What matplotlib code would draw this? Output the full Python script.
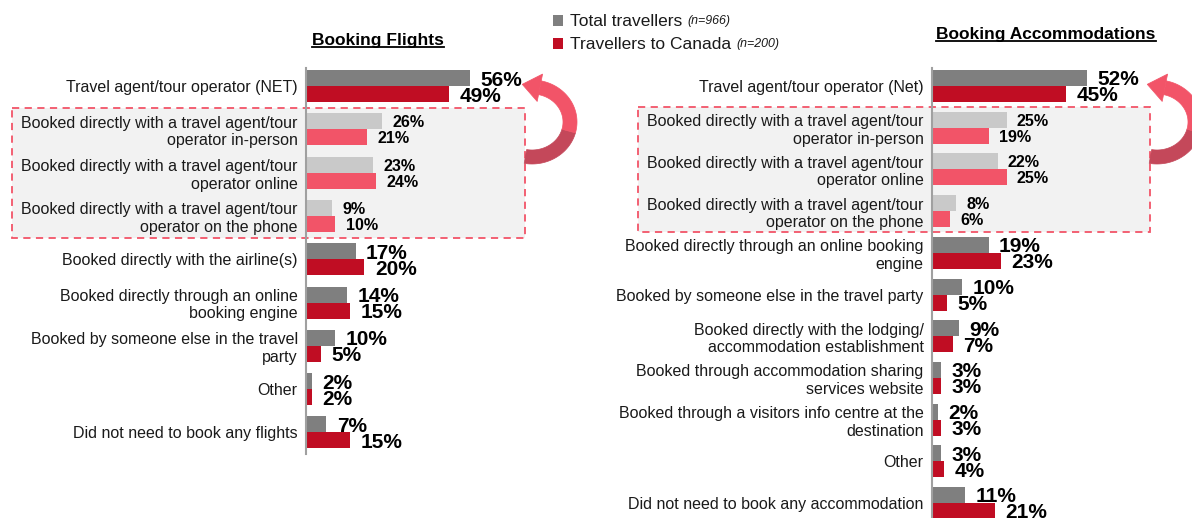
import numpy as np
import matplotlib.pyplot as plt
from matplotlib.patches import Rectangle, Polygon
from matplotlib.lines import Line2D
import matplotlib.transforms as mtransforms

plt.rcParams['font.family'] = ['Liberation Sans', 'DejaVu Sans']

W, H = 1192, 518

# data
flight_labels = [
    "Travel agent/tour operator (NET)",
    "Booked directly with a travel agent/tour\noperator in-person",
    "Booked directly with a travel agent/tour\noperator online",
    "Booked directly with a travel agent/tour\noperator on the phone",
    "Booked directly with the airline(s)",
    "Booked directly through an online\nbooking engine",
    "Booked by someone else in the travel\nparty",
    "Other",
    "Did not need to book any flights",
]
flight_total = [56, 26, 23, 9, 17, 14, 10, 2, 7]
flight_canada = [49, 21, 24, 10, 20, 15, 5, 2, 15]

accom_labels = [
    "Travel agent/tour operator (Net)",
    "Booked directly with a travel agent/tour\noperator in-person",
    "Booked directly with a travel agent/tour\noperator online",
    "Booked directly with a travel agent/tour\noperator on the phone",
    "Booked directly through an online booking\nengine",
    "Booked by someone else in the travel party",
    "Booked directly with the lodging/\naccommodation establishment",
    "Booked through accommodation sharing\nservices website",
    "Booked through a visitors info centre at the\ndestination",
    "Other",
    "Did not need to book any accommodation",
]
accom_total = [52, 25, 22, 8, 19, 10, 9, 3, 2, 3, 11]
accom_canada = [45, 19, 25, 6, 23, 5, 7, 3, 3, 4, 21]

highlight_rows = [1, 2, 3]
legend_names = ["Total travellers", "Travellers to Canada"]
legend_n = ["(n=966)", "(n=200)"]

GREY = '#7f7f7f'
RED = '#c00d23'
LIGHT_GREY = '#c9c9c9'
PINK = '#f25468'
DARK_PINK = '#c4485a'
BOX_FILL = '#f2f2f2'

fig = plt.figure(figsize=(W / 100, H / 100), dpi=100)

# background layer in pixel coordinates (box, arrows, legend, titles)
bg = fig.add_axes([0, 0, 1, 1], zorder=-1)
bg.set_xlim(0, W)
bg.set_ylim(H, 0)
bg.axis('off')


def draw_arrow(bx, cy=122, rx=38, ry=35, w=14):
    cx = bx + 7
    t_split = np.deg2rad(-15)
    for t0, t1, col in [(np.deg2rad(-100), t_split, DARK_PINK),
                        (t_split, np.deg2rad(78), PINK)]:
        t = np.linspace(t0, t1, 60)
        outer = np.c_[cx + (rx + w / 2) * np.cos(t), cy - (ry + w / 2) * np.sin(t)]
        inner = np.c_[cx + (rx - w / 2) * np.cos(t), cy - (ry - w / 2) * np.sin(t)]
        bg.add_patch(Polygon(np.vstack([outer, inner[::-1]]), closed=True,
                             facecolor=col, edgecolor=col, lw=0.5, zorder=3))
    te = np.deg2rad(78)
    p = np.array([cx + rx * np.cos(te), cy - ry * np.sin(te)])
    d = np.array([-rx * np.sin(te), -ry * np.cos(te)])
    d /= np.linalg.norm(d)
    n = np.array([-d[1], d[0]])
    head = [p + n * 14, p + d * 18, p - n * 14]
    bg.add_patch(Polygon(head, closed=True, facecolor=PINK, edgecolor=PINK,
                         lw=0.5, zorder=3))


def panel(x0, y_top, y_bot, px_pct, row_px, labels, total, canada, box_l, box_r):
    n = len(labels)
    y = np.arange(n)
    width = 60 * px_pct
    ax = fig.add_axes([x0 / W, 1 - y_bot / H, width / W, (y_bot - y_top) / H])
    ax.set_facecolor('none')
    ax.set_xlim(0, 60)
    ax.set_ylim((y_bot - 86) / row_px, -(86 - y_top) / row_px)
    bar_h = 16 / row_px
    hl = np.isin(y, highlight_rows)
    ax.barh(y - bar_h / 2, total, height=bar_h,
            color=np.where(hl, LIGHT_GREY, GREY))
    ax.barh(y + bar_h / 2, canada, height=bar_h,
            color=np.where(hl, PINK, RED))
    for i in range(n):
        fs = 11.6 if hl[i] else 15
        for v, yy in [(total[i], y[i] - bar_h / 2), (canada[i], y[i] + bar_h / 2)]:
            ax.annotate(f"{v}%", xy=(v, yy), xytext=(7.5, 0),
                        textcoords='offset points', ha='left',
                        va='center_baseline', fontsize=fs, fontweight='bold',
                        color='black', annotation_clip=False)
    ax.set_yticks(y, labels=labels, fontsize=11.5, color='#1a1a1a')
    ax.tick_params(axis='y', length=0, pad=6)
    ax.set_xticks([])
    for s in ['top', 'right', 'bottom']:
        ax.spines[s].set_visible(False)
    ax.spines['left'].set_color('#a0a0a0')
    ax.spines['left'].set_linewidth(1.5)

    trans = mtransforms.blended_transform_factory(bg.transData, ax.transData)
    bg.add_patch(Rectangle((box_l, min(highlight_rows) - 0.5), box_r - box_l,
                           len(highlight_rows), transform=trans,
                           facecolor=BOX_FILL, edgecolor=PINK, lw=1.3,
                           ls=(0, (4, 3)), zorder=1, clip_on=False))
    draw_arrow(box_r)
    return ax


ax1 = panel(306, 68, 454, 2.92, 43.3, flight_labels, flight_total,
            flight_canada, 12, 525)
ax2 = panel(932, 68, 530, 2.98, 41.7, accom_labels, accom_total,
            accom_canada, 638, 1150)

# titles
titles = [
    bg.text(378, 44.5, "Booking Flights", ha='center', va='baseline',
            fontsize=12.5, fontweight='bold'),
    bg.text(1046, 38.5, "Booking Accommodations", ha='center', va='baseline',
            fontsize=12.5, fontweight='bold'),
]

# legend
for name, nn, col, yc in zip(legend_names, legend_n, [GREY, RED], [20, 43]):
    bg.add_patch(Rectangle((553, yc - 5.5), 10, 11, facecolor=col,
                           edgecolor='none'))
    t = bg.text(570, yc, name, fontsize=12.5, va='center_baseline',
                ha='left', color='#1a1a1a')
    bg.annotate(nn, xy=(1, 0), xycoords=t, xytext=(4, 1.2),
                textcoords='offset points', fontsize=8.9, style='italic',
                ha='left', va='bottom', color='#1a1a1a')

# underline the titles
fig.canvas.draw()
r = fig.canvas.get_renderer()
for t in titles:
    bb = t.get_window_extent(r)
    x_a, x_b = bb.x0, bb.x1
    yb = H - t.get_position()[1]  # baseline in display coords (y up)
    fig.add_artist(Line2D([x_a, x_b], [yb - 2, yb - 2], transform=None,
                          color='black', lw=1.3))

fig.savefig('out.png', dpi=100)
